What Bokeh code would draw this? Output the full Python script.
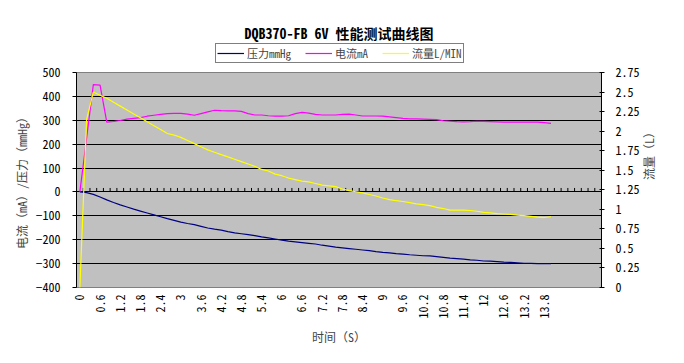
import math
from bokeh.plotting import figure
from bokeh.layouts import column
from bokeh.models import (Range1d, LinearAxis, FixedTicker, Legend, LegendItem,
                          CustomJSTickFormatter, ColumnDataSource)
from bokeh.core.properties import value
from bokeh.embed import file_html
from bokeh.resources import INLINE

# ---------------- data ----------------
time_s = [0, 0.2, 0.4, 0.6, 0.8, 1.0, 1.2, 1.4, 1.6, 1.8,
          2.0, 2.2, 2.4, 2.6, 2.8, 3.0, 3.2, 3.4, 3.6, 3.8,
          4.0, 4.2, 4.4, 4.6, 4.8, 5.0, 5.2, 5.4, 5.6, 5.8,
          6.0, 6.2, 6.4, 6.6, 6.8, 7.0, 7.2, 7.4, 7.6, 7.8,
          8.0, 8.2, 8.4, 8.6, 8.8, 9.0, 9.2, 9.4, 9.6, 9.8,
          10.0, 10.2, 10.4, 10.6, 10.8, 11.0, 11.2, 11.4, 11.6, 11.8,
          12.0, 12.2, 12.4, 12.6, 12.8, 13.0, 13.2, 13.4, 13.6, 13.8,
          14.0]

pressure_mmHg = [0, -3, -10, -21, -33, -44, -54, -63, -72, -80,
                 -88, -96, -104, -112, -119, -126, -132, -137, -144, -151,
                 -156, -160, -166, -171, -175, -179, -183, -188, -192, -197,
                 -202, -206, -209, -212, -215, -218, -223, -227, -231, -234,
                 -237, -240, -243, -246, -250, -253, -255, -258, -260, -263,
                 -265, -267, -268, -271, -274, -277, -279, -281, -284, -286,
                 -289, -290, -292, -294, -295, -297, -299, -299, -300, -300,
                 -300]

current_mA = [0, 225, 449, 447, 292, 295, 299, 305, 308, 311,
              317, 321, 325, 328, 329, 329, 326, 321, 328, 335,
              342, 340, 339, 339, 337, 328, 322, 322, 319, 317,
              317, 319, 328, 333, 330, 325, 322, 322, 322, 325,
              326, 322, 318, 318, 318, 317, 314, 311, 308, 306,
              306, 305, 304, 303, 298, 296, 294, 293, 294, 296,
              295, 294, 293, 292, 292, 292, 292, 292, 292, 290,
              287]

flow_L_min = [0, 2.15, 2.50, 2.46, 2.42, 2.37, 2.32, 2.27, 2.22, 2.17,
              2.12, 2.07, 2.02, 1.97, 1.95, 1.92, 1.88, 1.84, 1.80, 1.76,
              1.73, 1.70, 1.67, 1.64, 1.61, 1.58, 1.55, 1.51, 1.49, 1.45,
              1.43, 1.40, 1.38, 1.36, 1.35, 1.33, 1.31, 1.30, 1.29, 1.26,
              1.24, 1.225, 1.21, 1.19, 1.17, 1.145, 1.125, 1.11, 1.10, 1.085,
              1.07, 1.06, 1.047, 1.025, 1.01, 0.99, 0.99, 0.99, 0.985, 0.975,
              0.96, 0.955, 0.945, 0.94, 0.935, 0.925, 0.92, 0.91, 0.90, 0.895,
              0.905]

x_tick_labels = ["0", "0.6", "1.2", "1.8", "2.4", "3", "3.6", "4.2", "4.8",
                 "5.4", "6", "6.6", "7.2", "7.8", "8.4", "9", "9.6", "10.2",
                 "10.8", "11.4", "12", "12.6", "13.2", "13.8"]
n_categories = 78           # category slots on the axis (last ones blank)

left_ticks = [500, 400, 300, 200, 100, 0, -100, -200, -300, -400]
right_ticks = [2.75, 2.5, 2.25, 2, 1.75, 1.5, 1.25, 1, 0.75, 0.5, 0.25, 0]

series_names = ["压力mmHg", "电流mA", "流量L/MIN"]
series_colors = ["#000080", "#FF00FF", "#FFFF00"]
title_text = "DQB370-FB 6V 性能测试曲线图"

# ---------------- styles ----------------
MONO = "Noto Sans Mono CJK SC"
BG = "#C0C0C0"
W = 668
TOP_H = 64
MAIN_H = 347 - TOP_H
FRAME_H = 217
MAIN_TOP = 72 - TOP_H

idx = list(range(len(time_s)))
src = ColumnDataSource(dict(i=idx, p=pressure_mmHg, c=current_mA, f=flow_L_min))

# ---------------- header: title + legend ----------------
# (its ranges lie outside the data, so only the legend entries show)
head = figure(width=W, height=TOP_H, output_backend="svg", toolbar_location=None,
              x_range=Range1d(-3, -2), y_range=Range1d(-3, -2),
              x_axis_type=None, y_axis_type=None,
              min_border_left=0, min_border_right=0, min_border_bottom=0,
              min_border_top=42, outline_line_color=None,
              background_fill_color="white", border_fill_color="white")
head.grid.visible = False
head.title.text = title_text
head.title.align = "center"
head.title.text_font = MONO
head.title.text_font_style = "bold"
head.title.text_font_size = "14px"
head.title.text_color = "black"
head.title.standoff = 0
head.title.offset = 0

h_p = head.line("i", "p", source=src, line_color=series_colors[0], line_width=1.2)
h_c = head.line("i", "c", source=src, line_color=series_colors[1], line_width=1.2)
h_f = head.line("i", "f", source=src, line_color=series_colors[2], line_width=1.2)
legend = Legend(items=[LegendItem(label=n, renderers=[r])
                       for n, r in zip(series_names, [h_p, h_c, h_f])],
                orientation="horizontal", location=(139, 1),
                border_line_color="black", border_line_width=1,
                background_fill_color="white", background_fill_alpha=1,
                label_text_font=MONO, label_text_font_size="11px",
                glyph_width=27, glyph_height=12, label_height=12,
                label_standoff=3, spacing=14, padding=1, margin=0)
head.add_layout(legend)

# ---------------- main chart ----------------
p = figure(width=W, height=MAIN_H, output_backend="svg", toolbar_location=None,
           x_range=Range1d(-0.5, n_categories - 0.5),
           y_range=Range1d(min(left_ticks), max(left_ticks)),
           min_border_left=76, min_border_right=65,
           min_border_top=MAIN_TOP, min_border_bottom=MAIN_H - FRAME_H - MAIN_TOP,
           background_fill_color=BG, border_fill_color="white",
           outline_line_color="#808080", outline_line_width=1)
p.extra_y_ranges = {"flow": Range1d(min(right_ticks), max(right_ticks))}

# grid
p.xgrid.visible = False
p.ygrid.ticker = FixedTicker(ticks=[t for t in left_ticks if t not in (max(left_ticks), min(left_ticks))])
p.ygrid.grid_line_color = "black"
p.ygrid.grid_line_width = 1

# x axis (labels only; ticks drawn on the zero line)
label_pos = [time_s.index(float(s)) for s in x_tick_labels]
xax = p.xaxis[0]
xax.ticker = FixedTicker(ticks=label_pos)
xax.major_label_overrides = {pos: s for pos, s in zip(label_pos, x_tick_labels)}
xax.major_label_orientation = math.pi / 2
xax.axis_line_color = None
xax.major_tick_line_color = None
xax.minor_tick_line_color = None
xax.major_tick_out = 0
xax.major_label_standoff = 7
xax.major_label_text_font = MONO
xax.major_label_text_font_size = "12px"
xax.major_label_text_color = "black"
xax.axis_label = "时间（S）"
xax.axis_label_text_font = MONO
xax.axis_label_text_font_size = "12px"
xax.axis_label_text_font_style = "normal"
xax.axis_label_standoff = 6

# left axis
yax = p.yaxis[0]
yax.ticker = FixedTicker(ticks=left_ticks)
yax.axis_line_color = "black"
yax.major_tick_line_color = "black"
yax.major_tick_out = 4
yax.major_tick_in = 0
yax.minor_tick_line_color = None
yax.major_label_standoff = 12
yax.major_label_text_font = MONO
yax.major_label_text_font_size = "12px"
yax.major_label_text_color = "black"
yax.axis_label = "电流（mA）/压力（mmHg）"
yax.axis_label_text_font = MONO
yax.axis_label_text_font_size = "12px"
yax.axis_label_text_font_style = "normal"
yax.axis_label_standoff = 3

# right axis
rax = LinearAxis(y_range_name="flow", ticker=FixedTicker(ticks=right_ticks),
                 formatter=CustomJSTickFormatter(code="return String(tick)"))
rax.axis_line_color = "black"
rax.major_tick_line_color = "black"
rax.major_tick_out = 3
rax.major_tick_in = 2
rax.minor_tick_line_color = None
rax.major_label_standoff = 11
rax.major_label_text_font = MONO
rax.major_label_text_font_size = "12px"
rax.major_label_text_color = "black"
rax.axis_label = "流量（L）"
rax.axis_label_orientation = math.pi / 2
rax.axis_label_text_font = MONO
rax.axis_label_text_font_size = "12px"
rax.axis_label_text_font_style = "normal"
rax.axis_label_standoff = 6
p.add_layout(rax, "right")

# category tick marks on the zero line
bounds = [k - 0.5 for k in range(1, n_categories)]
tick_len = (max(left_ticks) - min(left_ticks)) / FRAME_H * 4
p.segment(x0=bounds, x1=bounds, y0=[0] * len(bounds), y1=[tick_len] * len(bounds),
          line_color="black", line_width=1)

# series
p.line("i", "p", source=src, line_color=series_colors[0], line_width=1.2)
p.line("i", "c", source=src, line_color=series_colors[1], line_width=1.2)
p.line("i", "f", source=src, line_color=series_colors[2], line_width=1.2, y_range_name="flow")

page = column(head, p, spacing=0)
open("out.html", "w").write(file_html(page, INLINE))
